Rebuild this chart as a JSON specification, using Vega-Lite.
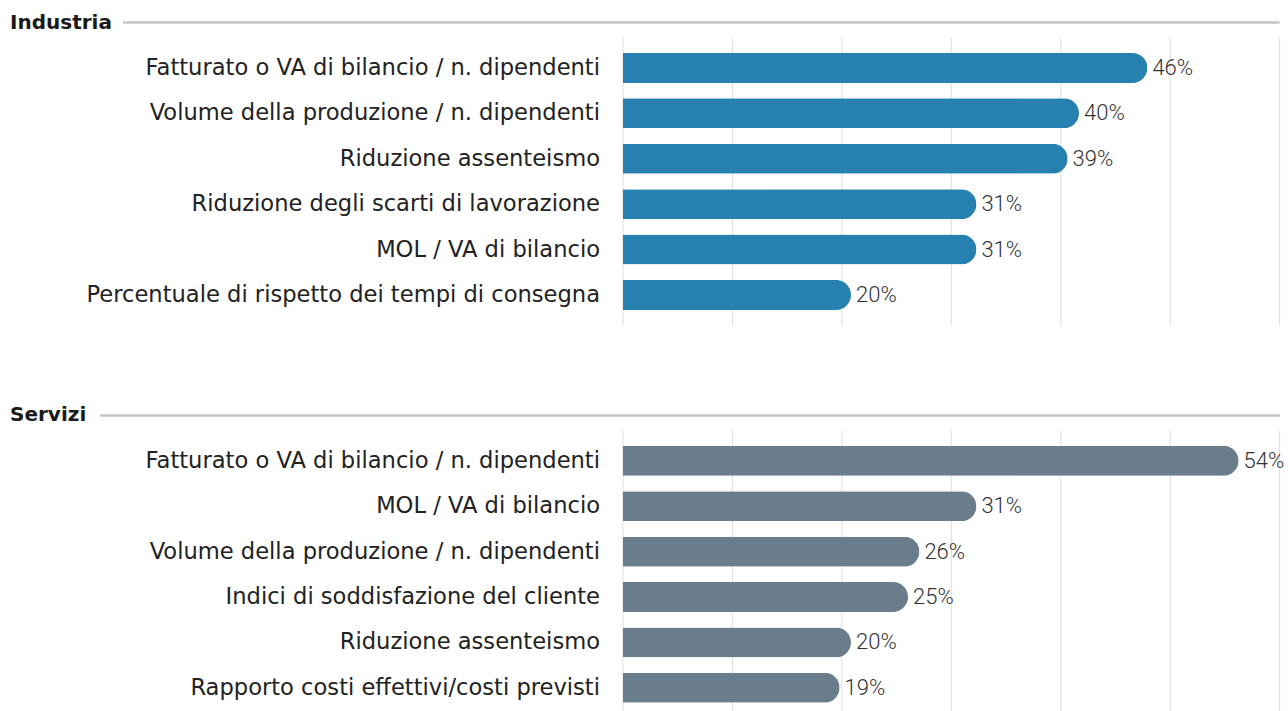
{
  "$schema": "https://vega.github.io/schema/vega-lite/v6.json",
  "padding": 0,
  "autosize": {"type": "pad"},
  "background": "white",
  "config": {"view": {"stroke": null}},
  "spacing": 74.9,
  "bounds": "flush",
  "datasets": {
    "bars": [
      {"group": "Industria", "label": "Fatturato o VA di bilancio / n. dipendenti", "value": 0.46},
      {"group": "Industria", "label": "Volume della produzione / n. dipendenti", "value": 0.40},
      {"group": "Industria", "label": "Riduzione assenteismo", "value": 0.39},
      {"group": "Industria", "label": "Riduzione degli scarti di lavorazione", "value": 0.31},
      {"group": "Industria", "label": "MOL / VA di bilancio", "value": 0.31},
      {"group": "Industria", "label": "Percentuale di rispetto dei tempi di consegna", "value": 0.20},
      {"group": "Servizi", "label": "Fatturato o VA di bilancio / n. dipendenti", "value": 0.54},
      {"group": "Servizi", "label": "MOL / VA di bilancio", "value": 0.31},
      {"group": "Servizi", "label": "Volume della produzione / n. dipendenti", "value": 0.26},
      {"group": "Servizi", "label": "Indici di soddisfazione del cliente", "value": 0.25},
      {"group": "Servizi", "label": "Riduzione assenteismo", "value": 0.20},
      {"group": "Servizi", "label": "Rapporto costi effettivi/costi previsti", "value": 0.19}
    ],
    "grid": [{"g": 0}, {"g": 0.096}, {"g": 0.192}, {"g": 0.288}, {"g": 0.384}, {"g": 0.48}, {"g": 0.576}],
    "heads": [{"group": "Industria"}, {"group": "Servizi"}]
  },
  "vconcat": [
    {
      "width": 1288,
      "height": 317.5,
      "layer": [
        {
          "data": {"name": "grid"},
          "mark": {"type": "rule", "color": "#dedede", "strokeWidth": 1},
          "encoding": {
            "x": {"field": "g", "type": "quantitative", "scale": {"domain": [-0.54649, 0.58333], "nice": false, "zero": false}, "axis": null},
            "y": {"datum": "Industria", "type": "nominal", "bandPosition": 1, "scale": {"domain": ["Industria", "Fatturato o VA di bilancio / n. dipendenti", "Volume della produzione / n. dipendenti", "Riduzione assenteismo", "Riduzione degli scarti di lavorazione", "MOL / VA di bilancio", "Percentuale di rispetto dei tempi di consegna"], "paddingInner": 0.34, "paddingOuter": 0.167}, "axis": null},
            "y2": {"datum": "Percentuale di rispetto dei tempi di consegna", "bandPosition": 1.516}
          }
        },
        {
          "data": {"name": "heads"},
          "transform": [{"filter": "datum.group === 'Industria'"}],
          "mark": {"type": "rule", "color": "#c4c4c4", "strokeWidth": 2.5},
          "encoding": {
            "x": {"datum": -0.4386, "type": "quantitative"},
            "x2": {"datum": 0.576},
            "y": {"field": "group", "type": "nominal"}
          }
        },
        {
          "data": {"name": "heads"},
          "transform": [{"filter": "datum.group === 'Industria'"}],
          "mark": {"type": "text", "align": "left", "baseline": "middle", "font": "DejaVu Sans", "fontWeight": "bold", "fontSize": 20, "color": "#1a1a1a"},
          "encoding": {
            "x": {"datum": -0.5377, "type": "quantitative"},
            "y": {"field": "group", "type": "nominal"},
            "text": {"field": "group"}
          }
        },
        {
          "data": {"name": "bars"},
          "transform": [{"filter": "datum.group === 'Industria'"}],
          "mark": {"type": "bar", "color": "#2680b0", "cornerRadiusEnd": 15},
          "encoding": {
            "x": {"field": "value", "type": "quantitative"},
            "y": {"field": "label", "type": "nominal"}
          }
        },
        {
          "data": {"name": "bars"},
          "transform": [{"filter": "datum.group === 'Industria'"}],
          "mark": {"type": "text", "align": "right", "baseline": "middle", "dx": -23, "font": "DejaVu Sans", "fontSize": 22.6, "color": "#222222"},
          "encoding": {
            "x": {"datum": 0, "type": "quantitative"},
            "y": {"field": "label", "type": "nominal"},
            "text": {"field": "label"}
          }
        },
        {
          "data": {"name": "bars"},
          "transform": [{"filter": "datum.group === 'Industria'"}],
          "mark": {"type": "text", "align": "left", "baseline": "middle", "dx": 5, "font": "Roboto", "fontWeight": 300, "fontSize": 22, "color": "#333333"},
          "encoding": {
            "x": {"field": "value", "type": "quantitative"},
            "y": {"field": "label", "type": "nominal"},
            "text": {"field": "value", "type": "quantitative", "format": ".0%"}
          }
        }
      ]
    },
    {
      "width": 1288,
      "height": 317.5,
      "layer": [
        {
          "data": {"name": "grid"},
          "mark": {"type": "rule", "color": "#dedede", "strokeWidth": 1},
          "encoding": {
            "x": {"field": "g", "type": "quantitative", "scale": {"domain": [-0.54649, 0.58333], "nice": false, "zero": false}, "axis": null},
            "y": {"datum": "Servizi", "type": "nominal", "bandPosition": 1, "scale": {"domain": ["Servizi", "Fatturato o VA di bilancio / n. dipendenti", "MOL / VA di bilancio", "Volume della produzione / n. dipendenti", "Indici di soddisfazione del cliente", "Riduzione assenteismo", "Rapporto costi effettivi/costi previsti"], "paddingInner": 0.34, "paddingOuter": 0.167}, "axis": null},
            "y2": {"datum": "Rapporto costi effettivi/costi previsti", "bandPosition": 1.516}
          }
        },
        {
          "data": {"name": "heads"},
          "transform": [{"filter": "datum.group === 'Servizi'"}],
          "mark": {"type": "rule", "color": "#c4c4c4", "strokeWidth": 2.5},
          "encoding": {
            "x": {"datum": -0.4588, "type": "quantitative"},
            "x2": {"datum": 0.576},
            "y": {"field": "group", "type": "nominal"}
          }
        },
        {
          "data": {"name": "heads"},
          "transform": [{"filter": "datum.group === 'Servizi'"}],
          "mark": {"type": "text", "align": "left", "baseline": "middle", "font": "DejaVu Sans", "fontWeight": "bold", "fontSize": 20, "color": "#1a1a1a"},
          "encoding": {
            "x": {"datum": -0.5377, "type": "quantitative"},
            "y": {"field": "group", "type": "nominal"},
            "text": {"field": "group"}
          }
        },
        {
          "data": {"name": "bars"},
          "transform": [{"filter": "datum.group === 'Servizi'"}],
          "mark": {"type": "bar", "color": "#6a7d8b", "cornerRadiusEnd": 15},
          "encoding": {
            "x": {"field": "value", "type": "quantitative"},
            "y": {"field": "label", "type": "nominal"}
          }
        },
        {
          "data": {"name": "bars"},
          "transform": [{"filter": "datum.group === 'Servizi'"}],
          "mark": {"type": "text", "align": "right", "baseline": "middle", "dx": -23, "font": "DejaVu Sans", "fontSize": 22.6, "color": "#222222"},
          "encoding": {
            "x": {"datum": 0, "type": "quantitative"},
            "y": {"field": "label", "type": "nominal"},
            "text": {"field": "label"}
          }
        },
        {
          "data": {"name": "bars"},
          "transform": [{"filter": "datum.group === 'Servizi'"}],
          "mark": {"type": "text", "align": "left", "baseline": "middle", "dx": 5, "font": "Roboto", "fontWeight": 300, "fontSize": 22, "color": "#333333"},
          "encoding": {
            "x": {"field": "value", "type": "quantitative"},
            "y": {"field": "label", "type": "nominal"},
            "text": {"field": "value", "type": "quantitative", "format": ".0%"}
          }
        }
      ]
    }
  ]
}
